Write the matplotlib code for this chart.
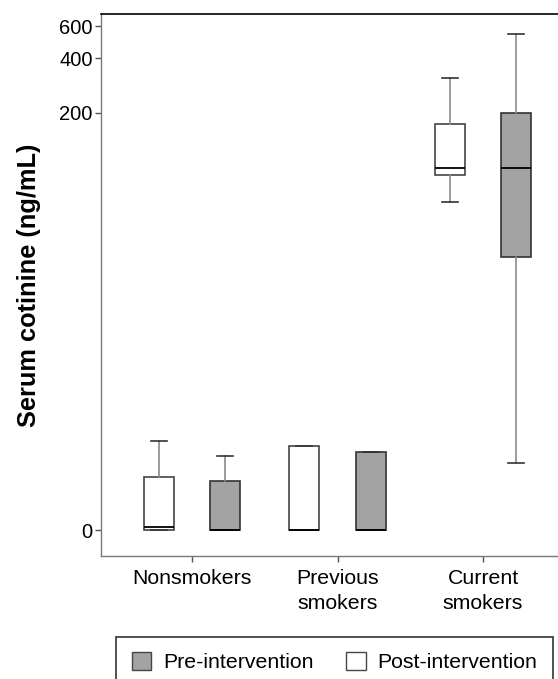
import numpy as np
import matplotlib
matplotlib.use("Agg")
import matplotlib.pyplot as plt
from matplotlib.patches import Patch

plt.rcParams['font.family'] = ['Liberation Sans', 'DejaVu Sans']

# data (ng/mL)
groups = ['Nonsmokers', 'Previous\nsmokers', 'Current\nsmokers']
# post-intervention (white boxes, left of each group)
post_q1 = [0.0, 0.0, 90.2]
post_med = [0.04, 0.0, 98.6]
post_q3 = [0.97, 1.9, 173.5]
post_lo = [0.0, 0.0, 63.5]
post_hi = [2.09, 1.9, 310.0]
# pre-intervention (grey boxes, right of each group)
pre_q1 = [0.0, 0.0, 31.3]
pre_med = [0.0, 0.0, 98.6]
pre_q3 = [0.87, 1.68, 198.7]
pre_lo = [0.0, 0.0, 1.34]
pre_hi = [1.56, 1.68, 544.0]

yticks = [0, 200, 400, 600]


def fwd(y):
    return np.log10(np.clip(y, -0.99, None) + 1)


def inv(t):
    return 10 ** t - 1


def make_stats(q1, med, q3, lo, hi):
    return [dict(q1=a, med=b, q3=c, whislo=d, whishi=e, fliers=[])
            for a, b, c, d, e in zip(q1, med, q3, lo, hi)]


fig = plt.figure(figsize=(5.58, 6.79), dpi=100)
ax = fig.add_axes([0.181, 0.1811, 0.819, 0.7983])

x = np.arange(len(groups))
off = 0.227
w = 0.206

common = dict(widths=w, patch_artist=True, capwidths=0.11,
              whiskerprops=dict(color='#8a8a8a', lw=1.2),
              capprops=dict(color='#333333', lw=1.2),
              medianprops=dict(color='black', lw=1.3),
              showfliers=False)

ax.bxp(make_stats(post_q1, post_med, post_q3, post_lo, post_hi),
       positions=x - off,
       boxprops=dict(facecolor='white', edgecolor='#444444', lw=1.2),
       **common)
ax.bxp(make_stats(pre_q1, pre_med, pre_q3, pre_lo, pre_hi),
       positions=x + off,
       boxprops=dict(facecolor='#a3a3a3', edgecolor='#333333', lw=1.2),
       **common)

ax.set_yscale('function', functions=(fwd, inv))
ax.set_ylim(-0.281, 703)
ax.set_yticks(yticks)
ax.set_yticklabels([str(v) for v in yticks])
ax.yaxis.set_minor_locator(matplotlib.ticker.NullLocator())
ax.set_xlim(-0.625, 2.515)
ax.set_xticks(x)
ax.set_xticklabels(groups, linespacing=1.42, fontsize=15.3)

ax.spines['right'].set_visible(False)
ax.spines['top'].set_color('black')
ax.spines['top'].set_linewidth(1.2)
for s in ['left', 'bottom']:
    ax.spines[s].set_color('#7a7a7a')
    ax.spines[s].set_linewidth(1.0)
ax.tick_params(axis='both', colors='#555555', labelcolor='black',
               labelsize=14.5, length=4, width=1.0, pad=2)
ax.tick_params(axis='x', pad=5, labelsize=15.3)

ax.set_ylabel('Serum cotinine (ng/mL)', fontsize=18.3, fontweight='bold',
              labelpad=13)

handles = [Patch(facecolor='#a3a3a3', edgecolor='#444444', label='Pre-intervention'),
           Patch(facecolor='white', edgecolor='#444444', label='Post-intervention')]
leg = fig.legend(handles=handles, loc='center', ncol=2,
                 bbox_to_anchor=((116 + 553) / 2 / 558, 1 - 662 / 679),
                 fontsize=15.3, frameon=True, fancybox=False,
                 handlelength=0.92, handleheight=0.92, handletextpad=0.55,
                 columnspacing=1.55, borderpad=0.72, borderaxespad=0)
leg.get_frame().set_edgecolor('black')
leg.get_frame().set_linewidth(1.2)

fig.savefig('out.png', dpi=100)
